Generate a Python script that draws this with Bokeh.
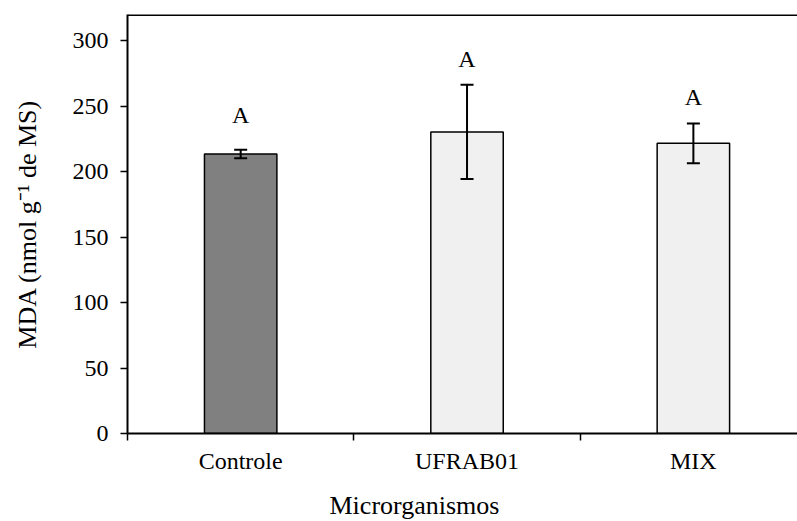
from bokeh.plotting import figure
from bokeh.models import (ColumnDataSource, Range1d, FixedTicker, Whisker, TeeHead,
                          Title, Span)
from bokeh.embed import file_html
from bokeh.resources import INLINE
from bokeh.core.properties import value

categories = ["Controle", "UFRAB01", "MIX"]
mda_means = [213.5, 230.3, 221.6]
mda_errors = [3.3, 36.0, 15.2]
letters = ["A", "A", "A"]
letter_y = [243, 286, 257]
bar_colors = ["#808080", "#f0f0f0", "#f0f0f0"]
y_ticks = [0, 50, 100, 150, 200, 250, 300]

FONT = "Liberation Serif"

xs = [i + 0.5 for i in range(len(categories))]
src = ColumnDataSource(dict(
    x=xs, top=mda_means,
    upper=[m + e for m, e in zip(mda_means, mda_errors)],
    lower=[m - e for m, e in zip(mda_means, mda_errors)],
    color=bar_colors, letter=letters, ly=letter_y,
))

p = figure(width=797, height=521, output_backend="svg", toolbar_location=None,
           x_range=Range1d(0, 2.96), y_range=Range1d(0, 320),
           min_border_left=127, min_border_right=0, min_border_top=14,
           min_border_bottom=88)
p.outline_line_color = None
p.xgrid.visible = False
p.ygrid.visible = False
p.background_fill_color = "white"
p.border_fill_color = "white"

p.vbar(x="x", top="top", width=0.32, source=src, fill_color="color",
       line_color="black", line_width=1.5)

w = Whisker(source=src, base="x", upper="upper", lower="lower",
            line_color="black", line_width=2, level="overlay",
            upper_head=TeeHead(size=13, line_width=2, line_color="black"),
            lower_head=TeeHead(size=13, line_width=2, line_color="black"))
p.add_layout(w)

p.text(x="x", y="ly", text="letter", source=src, text_font=value(FONT),
       text_font_size="24px", text_align="center", text_baseline="middle",
       text_color="black")

# top border
p.add_layout(Span(location=320, dimension="width", line_color="black", line_width=3))

# y axis
ya = p.yaxis[0]
ya.ticker = FixedTicker(ticks=y_ticks)
ya.major_tick_out = 7
ya.major_tick_in = 0
ya.minor_tick_line_color = None
ya.axis_line_width = 2
ya.major_tick_line_width = 1.5
ya.major_label_text_font = FONT
ya.major_label_text_font_size = "24px"
ya.major_label_text_color = "black"
ya.major_label_standoff = 12
ya.axis_label = "MDA (nmol g\u207b\u00b9 de MS)"
ya.axis_label_text_font = FONT
ya.axis_label_text_font_size = "26px"
ya.axis_label_text_font_style = "normal"
ya.axis_label_text_color = "black"
ya.axis_label_standoff = 28

# x axis
xa = p.xaxis[0]
xa.ticker = FixedTicker(ticks=xs, minor_ticks=[0, 1, 2])
xa.major_label_overrides = {x: c for x, c in zip(xs, categories)}
xa.major_tick_out = 0
xa.major_tick_in = 0
xa.minor_tick_out = 7
xa.minor_tick_in = 0
xa.minor_tick_line_width = 1.5
xa.axis_line_width = 2
xa.major_label_text_font = FONT
xa.major_label_text_font_size = "24px"
xa.major_label_text_color = "black"
xa.major_label_standoff = 7

# x axis title (placed left of centre, as in the reference)
t = Title(text="Microrganismos", align="left", offset=202, text_font=FONT,
          text_font_size="26px", text_font_style="normal", text_color="black")
props = Title.properties()
if "standoff" in props:
    t.standoff = 0
if "padding" in props:
    t.padding = dict(top=12, bottom=0, left=0, right=0)
p.add_layout(t, "below")

open("out.html", "w").write(file_html(p, INLINE))
